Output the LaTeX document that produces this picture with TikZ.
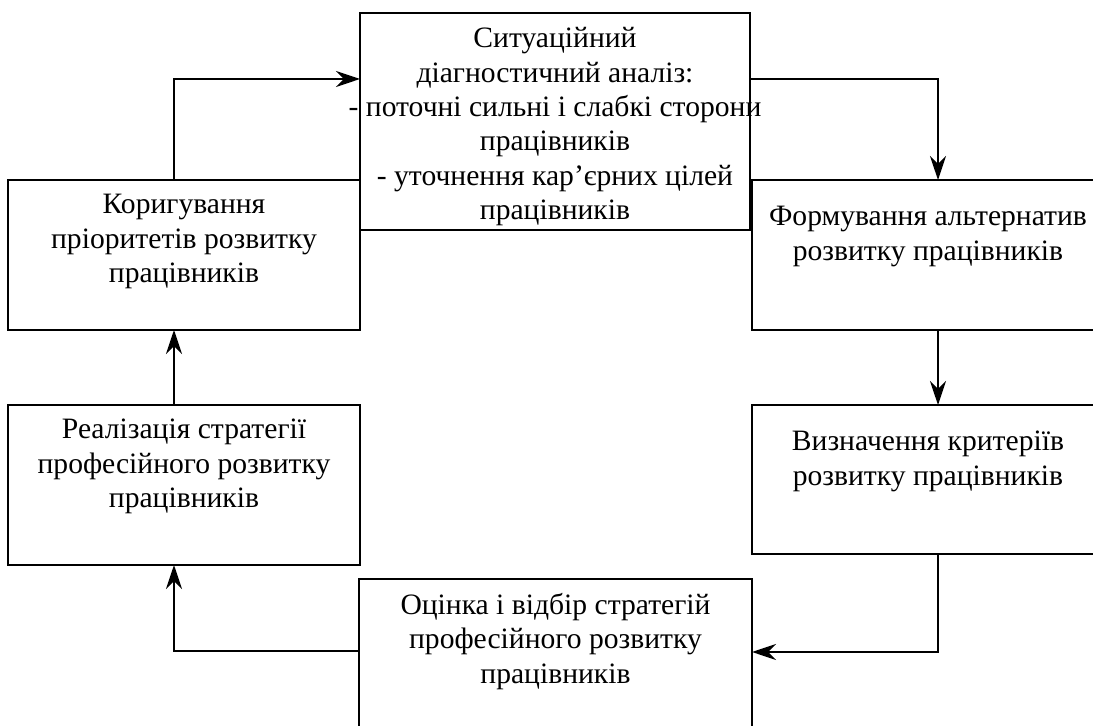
\documentclass[tikz,border=0pt]{standalone}
\usepackage{fontspec}
\setmainfont{Liberation Serif}
\usetikzlibrary{arrows.meta}
\begin{document}
\begin{tikzpicture}[x=0.5pt,y=-0.5pt,
  box/.style={draw, line width=1pt, inner sep=0pt, outer sep=0pt},
  txt/.style={align=center, inner sep=0pt, font=\fontsize{14.8}{17.2}\selectfont},
  arr/.style={line width=1.25pt, -{Stealth[length=12pt,width=8pt,inset=4pt]}},
  toptxt/.style={label={[txt,anchor=north,yshift=-7pt]north:{#1}}},
  lowtxt/.style={label={[txt,anchor=north,yshift=-13pt]north:{#1}}}
]
\useasboundingbox (0,0) rectangle (1093,726);
\clip (0,0) rectangle (1093,726);

\node[box, minimum width=195pt, minimum height=108.5pt,
  toptxt={Ситуаційний\\діагностичний аналіз:\\- поточні сильні і слабкі сторони\\працівників\\- уточнення кар’єрних цілей\\працівників}]
  (sit) at (555,121.5) {};
\node[box, minimum width=176pt, minimum height=75pt,
  toptxt={Коригування\\пріоритетів розвитку\\працівників}]
  (kor) at (184,255) {};
\node[box, minimum width=176pt, minimum height=80pt,
  toptxt={Реалізація стратегії\\професійного розвитку\\працівників}]
  (real) at (184,485) {};
\node[box, minimum width=176pt, minimum height=75pt,
  lowtxt={Формування альтернатив\\розвитку працівників}]
  (form) at (928,255) {};
\node[box, minimum width=176pt, minimum height=74.5pt,
  lowtxt={Визначення критеріїв\\розвитку працівників}]
  (viz) at (928,479.5) {};
\node[box, minimum width=196.5pt, minimum height=83pt,
  toptxt={Оцінка і відбір стратегій\\професійного розвитку\\працівників}]
  (oc) at (555.5,662) {};

\coordinate (a1) at (938,79);
\coordinate (a3) at (938,652);
\coordinate (a4) at (174,651);
\coordinate (a6) at (174,79);

\draw[arr] (sit.east |- a1) -| (form.north -| a1);
\draw[arr] (form.south -| a1) -- (viz.north -| a1);
\draw[arr] (viz.south -| a3) |- (oc.east |- a3);
\draw[arr] (oc.west |- a4) -| (real.south -| a4);
\draw[arr] (real.north -| a4) -- (kor.south -| a4);
\draw[arr] (kor.north -| a6) |- (sit.west |- a6);
\end{tikzpicture}
\end{document}
